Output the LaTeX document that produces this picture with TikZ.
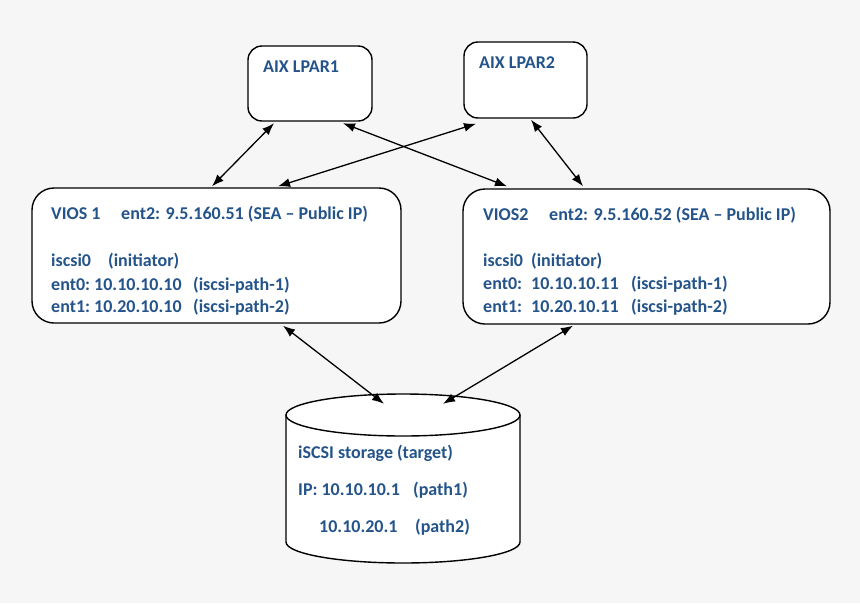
\documentclass[tikz,border=0pt]{standalone}
\usepackage{fontspec}
\setmainfont{Carlito}
\usetikzlibrary{arrows.meta,calc,positioning}

\definecolor{lbl}{RGB}{36,84,138}
\definecolor{bg}{RGB}{246,246,246}

\begin{document}
\begin{tikzpicture}[x=1pt, y=-1pt]
  \tikzstyle{box} = [draw=black, line width=1.4pt, fill=white, inner sep=0pt]
  \tikzstyle{txt} = [anchor=base west, inner sep=0pt, text=lbl, font=\fontsize{18}{21}\selectfont\bfseries]
  \tikzstyle{link} = [{Latex[length=12pt,width=9pt]}-{Latex[length=12pt,width=9pt]}, line width=1.3pt]

  \def\Cx{403};
  \def\Top{415};
  \def\Bot{542};

  \fill[bg] (0,0) rectangle (860,603);
  \useasboundingbox (0,0) rectangle (860,603);

  % LPAR boxes
  \node[box, rounded corners=14pt, minimum width=124pt, minimum height=75pt] (lpar1) at (310, 83.5) {};
  \node[box, rounded corners=14pt, minimum width=123pt, minimum height=76pt] (lpar2) at (525.5, 80) {};

  % VIOS boxes
  \node[box, rounded corners=22pt, minimum width=369pt, minimum height=135pt] (vios1) at (216.5, 255.5) {};
  \node[box, rounded corners=22pt, minimum width=367pt, minimum height=135pt] (vios2) at (646.5, 256.5) {};

  % storage cylinder
  \fill[white] (286,\Top) rectangle (520,\Bot);
  \fill[white] (\Cx,\Bot) ellipse (117pt and 21pt);
  \draw[line width=1.4pt] (286,\Top) -- (286,\Bot) arc[start angle=180, end angle=360, x radius=117pt, y radius=21pt] -- (520,\Top);
  \draw[line width=1.4pt, fill=white] (\Cx,\Top) ellipse (117pt and 21pt);
  \node[minimum width=234pt, minimum height=169pt, inner sep=0pt] (stor) at (\Cx, 478.5) {};

  % box texts
  \node[txt] (l1) at (263, 72.5) {AIX LPAR1};
  \node[txt] (l2) at (479, 68.5) {AIX LPAR2};

  \node[txt] (v1a) at (51, 219) {VIOS 1};
  \node[txt] (v1b) at (121, 219) {ent2: 9.5.160.51 (SEA -- Public IP)};
  \node[txt] (v1c) at (51, 266.5) {iscsi0};
  \node[txt] (v1d) at (108, 266.5) {(initiator)};
  \node[txt] (v1e) at (51, 290.5) {ent0:};
  \node[txt] (v1f) at (94, 290.5) {10.10.10.10};
  \node[txt] (v1g) at (193, 290.5) {(iscsi-path-1)};
  \node[txt] (v1h) at (51, 312) {ent1:};
  \node[txt] (v1i) at (94, 312) {10.20.10.10};
  \node[txt] (v1j) at (193, 312) {(iscsi-path-2)};

  \node[txt] (v2a) at (483, 220) {VIOS2};
  \node[txt] (v2b) at (549, 220) {ent2: 9.5.160.52 (SEA -- Public IP)};
  \node[txt] (v2c) at (483, 266.5) {iscsi0};
  \node[txt] (v2d) at (531, 266.5) {(initiator)};
  \node[txt] (v2e) at (483, 289.5) {ent0:};
  \node[txt] (v2f) at (531, 289.5) {10.10.10.11};
  \node[txt] (v2g) at (631, 289.5) {(iscsi-path-1)};
  \node[txt] (v2h) at (483, 312.5) {ent1:};
  \node[txt] (v2i) at (531, 312.5) {10.20.10.11};
  \node[txt] (v2j) at (631, 312.5) {(iscsi-path-2)};

  \node[txt] (s1) at (298, 458.5) {iSCSI storage (target)};
  \node[txt] (s2) at (298, 495.5) {IP: 10.10.10.1};
  \node[txt] (s3) at (413, 495.5) {(path1)};
  \node[txt] (s4) at (319, 532.5) {10.10.20.1};
  \node[txt] (s5) at (415, 532.5) {(path2)};

  % connection lines
  \draw[link] ([xshift=-36pt, yshift=-1.5pt]lpar1.south) -- ([xshift=-4.5pt, yshift=1pt]vios1.north);
  \draw[link] ([xshift=33pt, yshift=-1.5pt]lpar1.south) -- ([xshift=-139.5pt, yshift=2pt]vios2.north);
  \draw[link] ([xshift=-49.5pt, yshift=-5pt]lpar2.south) -- ([xshift=61.5pt, yshift=1pt]vios1.north);
  \draw[link] ([xshift=5.5pt, yshift=-1pt]lpar2.south) -- ([xshift=-63.5pt, yshift=2pt]vios2.north);
  \draw[link] ([xshift=66.5pt, yshift=-2pt]vios1.south) -- ([xshift=-19pt, yshift=-10pt]stor.north);
  \draw[link] ([xshift=-73.5pt, yshift=-1pt]vios2.south) -- ([xshift=40pt, yshift=-10pt]stor.north);

\end{tikzpicture}
\end{document}
